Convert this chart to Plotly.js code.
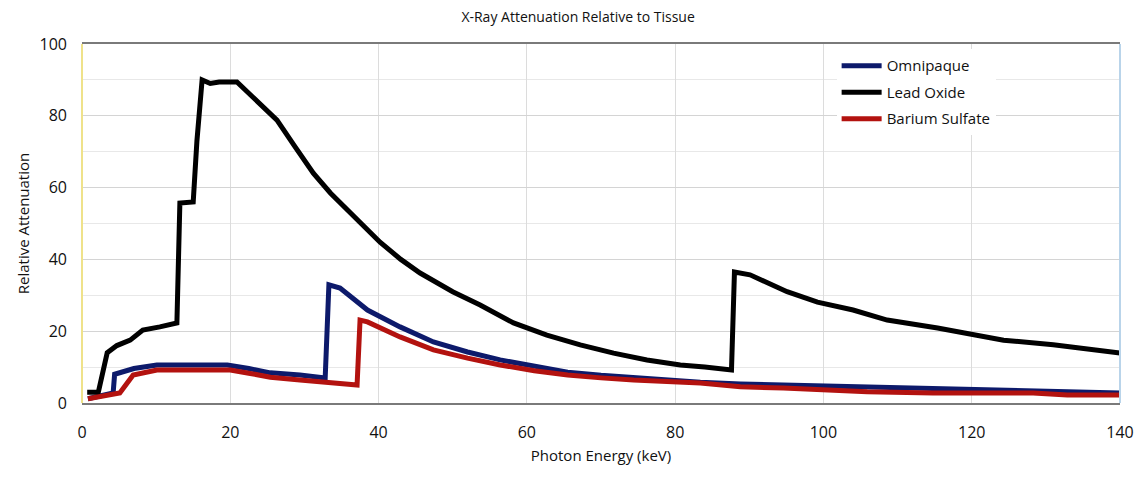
<!DOCTYPE html>
<html>
<head>
<meta charset="utf-8">
<script src="https://cdn.plot.ly/plotly-3.0.1.min.js"></script>
<style>html,body{margin:0;padding:0;background:#fff;}#chart{width:1138px;height:484px;}</style>
</head>
<body>
<div id="chart"></div>
<script>
// Photon energy (keV) and relative attenuation
const leadX = [0.7, 2.2, 3.4, 4.7, 6.5, 8.2, 10.5, 12.8, 13.2, 14.3, 15.0, 15.5, 16.2, 17.3, 18.5, 20.9, 23.1, 24.6, 26.3, 28.7, 31.2, 33.5, 35.8, 38.0, 40.2, 43.0, 45.6, 50.0, 53.7, 58.2, 62.7, 67.2, 71.7, 76.2, 80.7, 84.0, 87.6, 88.0, 90.1, 95.1, 99.2, 104.0, 108.6, 115.4, 120.0, 124.3, 131.0, 136.0, 140.0];
const leadY = [3, 3, 14, 16, 17.5, 20.3, 21.2, 22.3, 55.7, 55.7, 56, 73, 90, 89, 89.4, 89.4, 85.2, 82.5, 78.8, 71.5, 64, 58.5, 53.8, 49, 44.8, 40, 36.2, 31, 27.3, 22.3, 18.9, 16.2, 13.9, 12, 10.6, 10, 9.2, 36.5, 35.7, 31, 28.1, 25.9, 23.1, 20.9, 19, 17.5, 16.2, 15, 13.9];

const omniX = [0.8, 4.2, 4.4, 5.5, 7, 10.1, 15, 19.6, 22.5, 25.4, 29.4, 32.8, 33.3, 34.8, 38.5, 42.9, 47.4, 52, 56.4, 61, 65.5, 70, 74.4, 83.4, 88.8, 94.6, 105.9, 114.8, 128.3, 140];
const omniY = [1.2, 2.8, 8.0, 8.6, 9.6, 10.6, 10.6, 10.6, 9.6, 8.4, 7.8, 7.0, 32.9, 32.0, 25.9, 21.2, 17, 14.2, 12, 10.2, 8.6, 7.7, 7, 5.8, 5.3, 5.0, 4.5, 4.2, 3.3, 2.8];

const bariumX = [0.8, 4.2, 5.1, 6.9, 10.1, 15, 20, 22.5, 25.4, 29.4, 33, 37.1, 37.5, 38.5, 42.9, 47.4, 52, 56.4, 61, 65.5, 70, 74.4, 83.4, 88.8, 94.6, 105.9, 114.8, 128.3, 132.9, 140];
const bariumY = [1.2, 2.4, 2.8, 7.8, 9.2, 9.2, 9.2, 8.3, 7.2, 6.4, 5.7, 5.0, 23.1, 22.6, 18.4, 14.8, 12.5, 10.6, 9.0, 7.8, 7.0, 6.4, 5.6, 4.5, 4.2, 3.1, 2.8, 2.8, 2.2, 2.2];

const xTicks = [0, 20, 40, 60, 80, 100, 120, 140];
const yTicks = [0, 20, 40, 60, 80, 100];

const traces = [
  {x: omniX, y: omniY, name: 'Omnipaque', legendgroup: 'a', mode: 'lines', line: {color: '#0d1a6b', width: 5}},
  {x: leadX, y: leadY, name: 'Lead Oxide', legendgroup: 'b', mode: 'lines', line: {color: '#000000', width: 5}},
  {x: bariumX, y: bariumY, name: 'Barium Sulfate', legendgroup: 'c', mode: 'lines', line: {color: '#b3120f', width: 5}}
];

const font = 'Open Sans, DejaVu Sans, sans-serif';
const layout = {
  width: 1138, height: 484,
  margin: {l: 82, r: 18, t: 44, b: 81},
  paper_bgcolor: '#ffffff', plot_bgcolor: '#ffffff',
  title: {text: 'X-Ray Attenuation Relative to Tissue', x: 0.508, xanchor: 'center', y: 0.965, yanchor: 'middle',
          font: {family: font, size: 14, color: '#111'}},
  xaxis: {range: [0, 140], tickvals: xTicks, ticktext: xTicks.map(String), ticks: '',
          showgrid: true, gridcolor: '#dcdcdc', gridwidth: 1, zeroline: false,
          showline: true, linecolor: '#7a7a7a', linewidth: 2, mirror: true,
          tickfont: {family: font, size: 16, color: '#111'}, ticklabelstandoff: 14,
          title: {text: 'Photon Energy (keV)', font: {family: font, size: 15, color: '#111'}, standoff: 8}},
  yaxis: {range: [0, 100], tickvals: yTicks, ticktext: yTicks.map(String), ticks: '',
          showgrid: true, gridcolor: '#d4d4d4', gridwidth: 1, zeroline: false,
          minor: {dtick: 10, showgrid: true, gridcolor: '#e8e8e8', gridwidth: 1},
          showline: false,
          tickfont: {family: font, size: 16, color: '#111'}, ticklabelstandoff: 14,
          title: {text: 'Relative Attenuation', font: {family: font, size: 15, color: '#111'}, standoff: 6}},
  shapes: [
    {type: 'line', xref: 'paper', yref: 'paper', x0: 0, x1: 0, y0: 0, y1: 1, line: {color: '#efe28a', width: 2}},
    {type: 'line', xref: 'paper', yref: 'paper', x0: 1, x1: 1, y0: 0, y1: 1, line: {color: '#b9d4ea', width: 2}}
  ],
  legend: {x: 0.727, y: 0.985, xanchor: 'left', yanchor: 'top', bgcolor: '#ffffff',
           borderwidth: 0, font: {family: font, size: 15, color: '#111'},
           tracegroupgap: 4, itemwidth: 40},
  showlegend: true
};

Plotly.newPlot('chart', traces, layout, {displayModeBar: false, staticPlot: true});
</script>
</body>
</html>
